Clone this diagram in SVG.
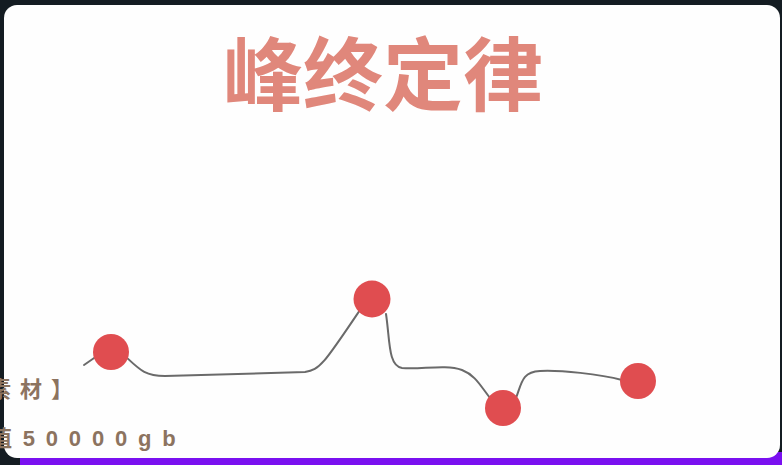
<svg xmlns="http://www.w3.org/2000/svg" width="782" height="465" viewBox="0 0 782 465">
<defs>
<style>
.dot{fill:#e04d50}
.conn{fill:none;stroke:#6a6a6a;stroke-width:2;stroke-linecap:round}
.note{font-family:"Liberation Sans","Noto Sans CJK SC",sans-serif;font-weight:bold;fill:#8c735f}
</style>
</defs>
<rect x="0" y="0" width="782" height="465" fill="#141c22"/>
<rect x="20" y="452" width="762" height="13" fill="#7a10f0"/>
<rect x="4" y="5" width="776" height="453" rx="13" fill="#fefefe"/>
<text x="383" y="104" text-anchor="middle" font-family="'Noto Sans CJK SC',sans-serif" font-size="80" font-weight="bold" fill="#e0877b">峰终定律</text>
<text class="note" x="-11" y="397" font-size="22" letter-spacing="9">素材】</text>
<text class="note" x="-10" y="446" font-size="22" letter-spacing="10.8">值50000gb</text>
<g id="connectors">
<path class="conn" d="M84,365 L97,356"/>
<path class="conn" d="M125,356 C140,370 145,376 165,376 L305,372 C320,370 325,362 360,310"/>
<path class="conn" d="M386,314 C390,340 388,366 402,368 C420,370 445,364 462,370 C475,375 480,385 490,398"/>
<path class="conn" d="M516,398 C522,382 522,372 540,371 C560,370 600,374 622,380"/>
</g>
<g id="n1"><circle class="dot" cx="111" cy="352" r="18"/></g>
<g id="n2"><circle class="dot" cx="372" cy="299" r="18.5"/></g>
<g id="n3"><circle class="dot" cx="503" cy="408" r="18"/></g>
<g id="n4"><circle class="dot" cx="638" cy="381" r="18"/></g>
</svg>
